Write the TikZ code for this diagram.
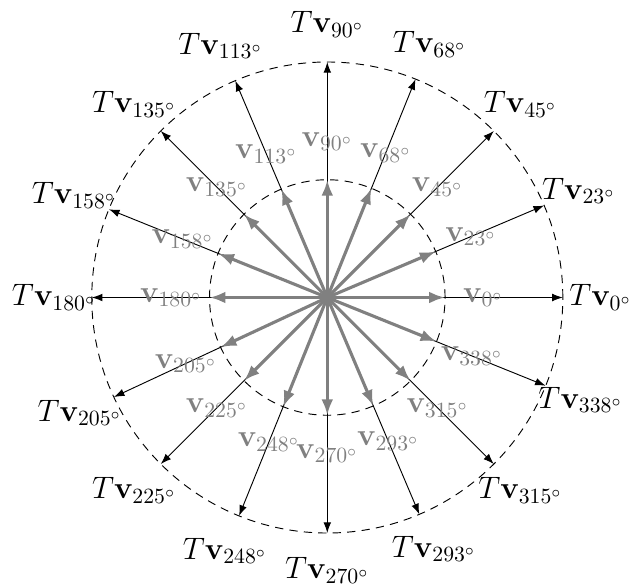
\RequirePackage{fix-cm}
\documentclass[tikz,border=0pt]{standalone}
\usepackage{amsmath,amssymb}
\usepackage{tikz}
\usetikzlibrary{arrows.meta}

\tikzset{
    image/.style={gray, line width=1.5pt, -{Latex[length=2.7mm,width=2mm]}},
    preimage/.style={black, line width=0.45pt, -{Latex[length=1.8mm,width=1.3mm]}},
    ring/.style={dash pattern=on 4pt off 3pt, line width=0.45pt},
}

\begin{document}
\begin{tikzpicture}[font=\fontsize{15}{18}\selectfont]
    \useasboundingbox (-5.559,-4.883) rectangle (5.124,5.053);
    \def\r{2}
    \def\R{4}
    \coordinate (O) at (0,0);
    \draw[ring] (O) circle (\r);
    \draw[ring] (O) circle (\R);
    % long arrows and their labels
    \foreach \a in {0,23,45,68,90,113,135,158,180,205,225,248,270,293,315,338} {
        \coordinate (out\a) at (\a:\R);
        \draw[preimage] (O) -- (out\a);
        \node (Tv\a) at (\a:4.64) {$T\mathbf{v}_{\a^\circ}$};
    }
    % short arrows and their labels
    \foreach \a in {0,23,45,68,90,113,135,158,180,205,225,248,270,293,315,338} {
        \coordinate (in\a) at (\a:\r);
        \draw[image] (O) -- (in\a);
        \node[gray] (v\a) at (\a:2.65) {$\mathbf{v}_{\a^\circ}$};
    }
\end{tikzpicture}
\end{document}
